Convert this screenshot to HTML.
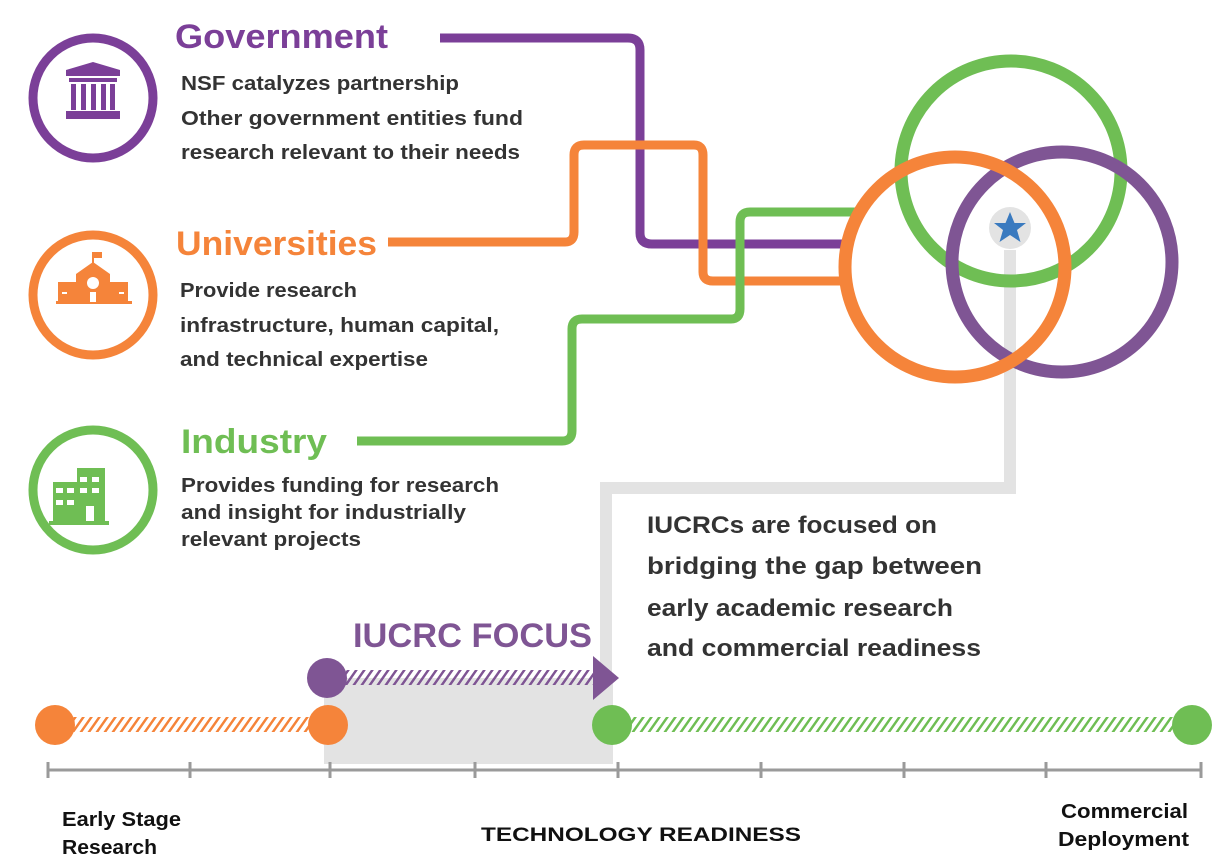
<!DOCTYPE html>
<html><head><meta charset="utf-8"><style>
html,body{margin:0;padding:0;background:#fff;}
svg{display:block;font-family:"Liberation Sans",sans-serif;}
</style></head><body>
<svg width="1225" height="862" viewBox="0 0 1225 862" xmlns="http://www.w3.org/2000/svg">
<defs>
<pattern id="ho" width="8" height="20" patternUnits="userSpaceOnUse" patternTransform="skewX(-35)"><rect x="0" y="0" width="3" height="20" fill="#f5843a"/></pattern>
<pattern id="hp" width="8" height="20" patternUnits="userSpaceOnUse" patternTransform="skewX(-35)"><rect x="0" y="0" width="3" height="20" fill="#7f5594"/></pattern>
<pattern id="hg" width="8" height="20" patternUnits="userSpaceOnUse" patternTransform="skewX(-35)"><rect x="0" y="0" width="3" height="20" fill="#6fbe54"/></pattern>
</defs>

<rect x="324" y="678" width="289" height="86" fill="#e3e3e3"/>
<path d="M1010 250 V488 H606 V690" fill="none" stroke="#e3e3e3" stroke-width="12"/>

<path d="M440 38 H628 Q640 38 640 50 V233 Q640 244 652 244 H845" fill="none" stroke="#7b3f98" stroke-width="9"/>
<path d="M388 242 H565 Q574 242 574 232 V155 Q574 145 584 145 H694 Q703 145 703 155 V272 Q703 281 713 281 H845" fill="none" stroke="#f5843a" stroke-width="9"/>
<path d="M357 441 H562 Q572 441 572 431 V329 Q572 319 582 319 H731 Q740 319 740 309 V222 Q740 212 750 212 H858" fill="none" stroke="#6fbe54" stroke-width="9"/>

<circle cx="1011" cy="171" r="110" fill="none" stroke="#6fbe54" stroke-width="13"/>
<circle cx="1062" cy="262" r="110" fill="none" stroke="#7f5594" stroke-width="13"/>
<circle cx="955" cy="267" r="110" fill="none" stroke="#f5843a" stroke-width="13"/>
<circle cx="1010" cy="228" r="21" fill="#e3e3e3"/>
<polygon points="1010,212 1014.5,223 1026,223 1017,230 1020.5,242 1010,235 999.5,242 1003,230 994,223 1005.5,223" fill="#3a7abf"/>

<circle cx="93" cy="98" r="60" fill="none" stroke="#7b3f98" stroke-width="9"/>
<g fill="#7b3f98"><polygon points="93,62 120,70 120,76 66,76 66,70"/><rect x="69" y="78" width="48" height="4"/>
<rect x="71" y="84" width="5" height="26"/><rect x="81" y="84" width="5" height="26"/><rect x="91" y="84" width="5" height="26"/><rect x="101" y="84" width="5" height="26"/><rect x="110" y="84" width="5" height="26"/><rect x="66" y="111" width="54" height="8"/></g>
<circle cx="93" cy="295" r="60" fill="none" stroke="#f5843a" stroke-width="9"/>
<g fill="#f5843a"><rect x="92" y="252" width="2" height="12"/><rect x="94" y="252" width="8" height="6"/><polygon points="93,262 110,274 76,274"/><rect x="76" y="274" width="34" height="28"/><rect x="58" y="282" width="18" height="20"/><rect x="110" y="282" width="18" height="20"/><rect x="56" y="301" width="76" height="3"/></g>
<g fill="#fff"><circle cx="93" cy="283" r="6"/><rect x="90" y="292" width="6" height="10"/><rect x="62" y="292" width="5" height="2"/><rect x="119" y="292" width="5" height="2"/></g>
<circle cx="93" cy="490" r="60" fill="none" stroke="#6fbe54" stroke-width="9"/>
<g fill="#6fbe54"><rect x="77" y="468" width="28" height="54"/><rect x="53" y="482" width="30" height="40"/><rect x="49" y="521" width="60" height="4"/></g>
<g fill="#fff"><rect x="56" y="488" width="7" height="5"/><rect x="67" y="488" width="7" height="5"/><rect x="80" y="488" width="7" height="5"/><rect x="92" y="488" width="7" height="5"/><rect x="80" y="477" width="7" height="5"/><rect x="92" y="477" width="7" height="5"/><rect x="56" y="500" width="7" height="5"/><rect x="67" y="500" width="7" height="5"/><rect x="86" y="506" width="8" height="15"/></g>

<text x="175" y="48" font-size="34" font-weight="bold" fill="#7b3f98" textLength="213" lengthAdjust="spacingAndGlyphs">Government</text>
<g font-size="20" font-weight="bold" fill="#333">
<text x="181" y="90" textLength="278" lengthAdjust="spacingAndGlyphs">NSF catalyzes partnership</text>
<text x="181" y="125" textLength="342" lengthAdjust="spacingAndGlyphs">Other government entities fund</text>
<text x="181" y="159" textLength="339" lengthAdjust="spacingAndGlyphs">research relevant to their needs</text>
</g>
<text x="176" y="255" font-size="34" font-weight="bold" fill="#f5843a" textLength="201" lengthAdjust="spacingAndGlyphs">Universities</text>
<g font-size="20" font-weight="bold" fill="#333">
<text x="180" y="297" textLength="177" lengthAdjust="spacingAndGlyphs">Provide research</text>
<text x="180" y="332" textLength="319" lengthAdjust="spacingAndGlyphs">infrastructure, human capital,</text>
<text x="180" y="366" textLength="248" lengthAdjust="spacingAndGlyphs">and technical expertise</text>
</g>
<text x="181" y="453" font-size="34" font-weight="bold" fill="#6fbe54" textLength="146" lengthAdjust="spacingAndGlyphs">Industry</text>
<g font-size="20" font-weight="bold" fill="#333">
<text x="181" y="492" textLength="318" lengthAdjust="spacingAndGlyphs">Provides funding for research</text>
<text x="181" y="519" textLength="285" lengthAdjust="spacingAndGlyphs">and insight for industrially</text>
<text x="181" y="546" textLength="180" lengthAdjust="spacingAndGlyphs">relevant projects</text>
</g>
<g font-size="24" font-weight="bold" fill="#333">
<text x="647" y="533" textLength="290" lengthAdjust="spacingAndGlyphs">IUCRCs are focused on</text>
<text x="647" y="574" textLength="335" lengthAdjust="spacingAndGlyphs">bridging the gap between</text>
<text x="647" y="616" textLength="306" lengthAdjust="spacingAndGlyphs">early academic research</text>
<text x="647" y="656" textLength="334" lengthAdjust="spacingAndGlyphs">and commercial readiness</text>
</g>
<text x="353" y="647" font-size="34" font-weight="bold" fill="#7f5594" textLength="239" lengthAdjust="spacingAndGlyphs">IUCRC FOCUS</text>

<rect x="72" y="717" width="240" height="15" fill="url(#ho)"/>
<rect x="345" y="670" width="250" height="15" fill="url(#hp)"/>
<polygon points="593,656 619,678 593,700" fill="#7f5594"/>
<rect x="630" y="717" width="546" height="15" fill="url(#hg)"/>
<circle cx="55" cy="725" r="20" fill="#f5843a"/>
<circle cx="328" cy="725" r="20" fill="#f5843a"/>
<circle cx="327" cy="678" r="20" fill="#7f5594"/>
<circle cx="612" cy="725" r="20" fill="#6fbe54"/>
<circle cx="1192" cy="725" r="20" fill="#6fbe54"/>
<g stroke="#9a9a9a" stroke-width="3">
<line x1="48" y1="770" x2="1202" y2="770"/>
<line x1="48" y1="762" x2="48" y2="778"/><line x1="190" y1="762" x2="190" y2="778"/><line x1="330" y1="762" x2="330" y2="778"/><line x1="475" y1="762" x2="475" y2="778"/><line x1="618" y1="762" x2="618" y2="778"/><line x1="761" y1="762" x2="761" y2="778"/><line x1="904" y1="762" x2="904" y2="778"/><line x1="1046" y1="762" x2="1046" y2="778"/><line x1="1201" y1="762" x2="1201" y2="778"/>
</g>
<g font-size="20" font-weight="bold" fill="#111">
<text x="62" y="826" textLength="119" lengthAdjust="spacingAndGlyphs">Early Stage</text>
<text x="62" y="854" textLength="95" lengthAdjust="spacingAndGlyphs">Research</text>
<text x="1061" y="818" textLength="127" lengthAdjust="spacingAndGlyphs">Commercial</text>
<text x="1058" y="846" textLength="131" lengthAdjust="spacingAndGlyphs">Deployment</text>
<text x="481" y="841" font-size="19" textLength="320" lengthAdjust="spacingAndGlyphs">TECHNOLOGY READINESS</text>
</g>
</svg>
</body></html>
